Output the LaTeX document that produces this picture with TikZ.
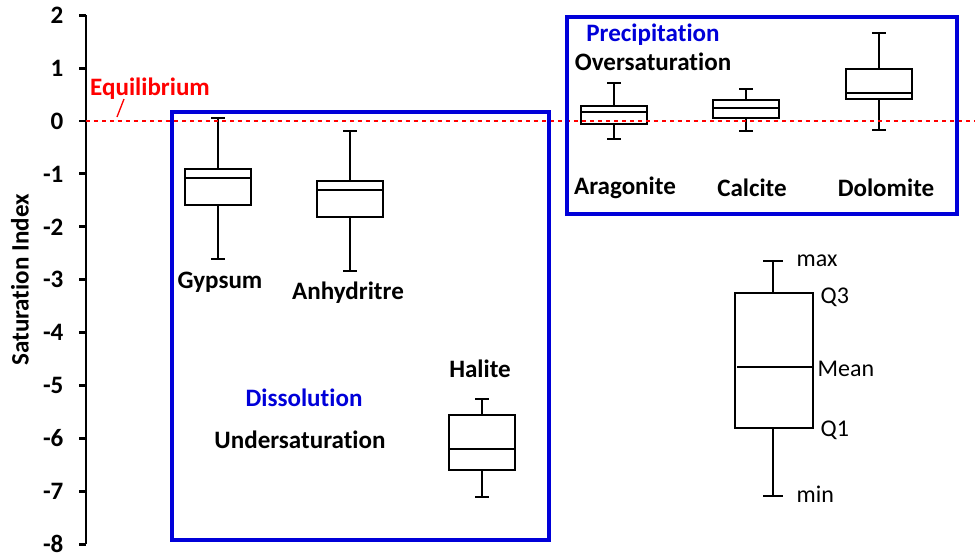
\documentclass[tikz,border=0pt]{standalone}
\usepackage{fontspec}
\setmainfont{Carlito}[Ligatures=NoCommon,Contextuals=NoAlternate]
\usetikzlibrary{positioning}

\begin{document}
\begin{tikzpicture}[x=0.75pt,y=-0.75pt,
  declare function={sy(\v)=121-52.9*\v;},
  every node/.style={font=\bfseries\fontsize{18.8}{22}\selectfont,inner sep=1pt},
  boxline/.style={black,line width=1.5pt},
  region/.style={blue!85!black,line width=2.3pt},
  keytext/.style={font=\fontsize{18}{21}\selectfont,anchor=west}]

  \useasboundingbox (0,0) rectangle (975,553);

  % axis
  \draw[line width=2.2pt] (86,{sy(2)}) coordinate (top) -- (86,{sy(-8)}) coordinate (bottom);
  \foreach \v in {2,1,0,-1,-2,-3,-4,-5,-6,-7,-8} {
    \draw[line width=2.2pt] (79,{sy(\v)}) -- (86,{sy(\v)});
    \node[anchor=east] (tick\v) at (65,{sy(\v)}) {\v};
  }
  \node[rotate=90] (ylabel) at (20,280) {Saturation Index};

  % boxes: x / min / Q1 / mean / Q3 / max
  \foreach \xc/\mn/\qa/\me/\qb/\mx in {218/-2.61/-1.59/-1.08/-0.91/0.06,
      350/-2.84/-1.81/-1.30/-1.13/-0.19,
      482/-7.10/-6.60/-6.20/-5.55/-5.25,
      614/-0.34/-0.06/0.17/0.28/0.72,
      746/-0.19/0.06/0.25/0.40/0.60,
      879/-0.17/0.42/0.53/0.98/1.66} {
    \draw[boxline] (\xc-33,{sy(\qa)}) rectangle (\xc+33,{sy(\qb)});
    \draw[boxline] (\xc-33,{sy(\me)}) -- (\xc+33,{sy(\me)});
    \draw[boxline] (\xc,{sy(\qa)}) -- (\xc,{sy(\mn)}) (\xc-7,{sy(\mn)}) -- (\xc+7,{sy(\mn)});
    \draw[boxline] (\xc,{sy(\qb)}) -- (\xc,{sy(\mx)}) (\xc-7,{sy(\mx)}) -- (\xc+7,{sy(\mx)});
  }

  % equilibrium
  \draw[red,dashed,line width=1pt] (86,{sy(0)}) coordinate (eqa) -- (975,{sy(0)}) coordinate (eqb);
  \node[red] (eq) at (150,89) {Equilibrium};
  \draw[red,line width=1pt] (124,99) -- (117,117);

  % regions
  \draw[region] (172,112) rectangle (549,540);
  \draw[region] (567,17) rectangle (957,214);

  \node (gyp) at (220,282) {Gypsum};
  \node (anh) at (348,293) {Anhydritre};
  \node (hal) at (480,369) {Halite};
  \node[blue!85!black] (dis) at (304,398) {Dissolution};
  \node (under) at (300,440) {Undersaturation};
  \node[blue!85!black] (prec) at (653,35) {Precipitation};
  \node (over) at (653,62) {Oversaturation};
  \node (ara) at (625,188) {Aragonite};
  \node (cal) at (752,188) {Calcite};
  \node (dol) at (886,188) {Dolomite};

  % key
  \draw[line width=1.2pt] (735,293) rectangle (813,428);
  \draw[line width=1pt] (737,367) -- (813,367);
  \draw[line width=1.2pt] (773,293) -- (773,261) (763,261) -- (783,261);
  \draw[line width=1.2pt] (773,428) -- (773,496) (763,496) -- (783,496);
  \node[keytext] (kmax) at (795,261) {max};
  \node[keytext] (kq3) at (819,297) {Q3};
  \node[keytext] (kmean) at (816,369) {Mean};
  \node[keytext] (kq1) at (819,430) {Q1};
  \node[keytext] (kmin) at (795,494) {min};

\end{tikzpicture}
\end{document}
